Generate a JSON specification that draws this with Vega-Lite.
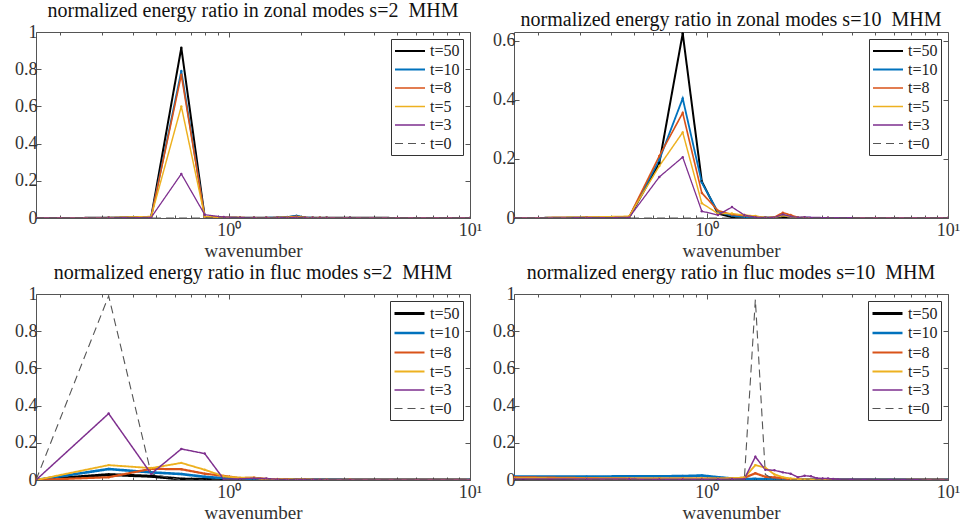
{
"$schema": "https://vega.github.io/schema/vega-lite/v6.json",
"background": "white",
"padding": {"left": 14, "top": 0, "right": 5, "bottom": 5},
"columns": 2,
"spacing": {"row": 76, "column": 44},
"bounds": "flush",
"datasets": {
"zs2": [
{"k":0.1592,"v":0,"s":"t=50"},{"k":0.3183,"v":0.001,"s":"t=50"},{"k":0.4775,"v":0.005,"s":"t=50"},{"k":0.6366,"v":0.915,"s":"t=50"},{"k":0.7958,"v":0.006,"s":"t=50"},{"k":0.9549,"v":0.002,"s":"t=50"},{"k":1.1141,"v":0.001,"s":"t=50"},{"k":1.2732,"v":0.001,"s":"t=50"},{"k":1.4324,"v":0.001,"s":"t=50"},{"k":1.5915,"v":0.002,"s":"t=50"},{"k":1.7507,"v":0.004,"s":"t=50"},{"k":1.9099,"v":0.010,"s":"t=50"},{"k":2.069,"v":0.002,"s":"t=50"},{"k":2.2282,"v":0.001,"s":"t=50"},{"k":2.3873,"v":0.001,"s":"t=50"},{"k":2.5465,"v":0.001,"s":"t=50"},{"k":3.1831,"v":0.001,"s":"t=50"},{"k":10.0268,"v":0,"s":"t=50"},
{"k":0.1592,"v":0,"s":"t=10"},{"k":0.3183,"v":0.001,"s":"t=10"},{"k":0.4775,"v":0.005,"s":"t=10"},{"k":0.6366,"v":0.79,"s":"t=10"},{"k":0.7958,"v":0.006,"s":"t=10"},{"k":0.9549,"v":0.002,"s":"t=10"},{"k":1.1141,"v":0.001,"s":"t=10"},{"k":1.2732,"v":0.001,"s":"t=10"},{"k":1.4324,"v":0.001,"s":"t=10"},{"k":1.5915,"v":0.002,"s":"t=10"},{"k":1.7507,"v":0.005,"s":"t=10"},{"k":1.9099,"v":0.012,"s":"t=10"},{"k":2.069,"v":0.002,"s":"t=10"},{"k":2.2282,"v":0.001,"s":"t=10"},{"k":2.3873,"v":0.001,"s":"t=10"},{"k":2.5465,"v":0.001,"s":"t=10"},{"k":3.1831,"v":0,"s":"t=10"},{"k":10.0268,"v":0,"s":"t=10"},
{"k":0.1592,"v":0,"s":"t=8"},{"k":0.3183,"v":0.001,"s":"t=8"},{"k":0.4775,"v":0.006,"s":"t=8"},{"k":0.6366,"v":0.77,"s":"t=8"},{"k":0.7958,"v":0.007,"s":"t=8"},{"k":0.9549,"v":0.003,"s":"t=8"},{"k":1.1141,"v":0.002,"s":"t=8"},{"k":1.2732,"v":0.001,"s":"t=8"},{"k":1.4324,"v":0.001,"s":"t=8"},{"k":1.5915,"v":0.002,"s":"t=8"},{"k":1.7507,"v":0.004,"s":"t=8"},{"k":1.9099,"v":0.008,"s":"t=8"},{"k":2.069,"v":0.002,"s":"t=8"},{"k":2.2282,"v":0.001,"s":"t=8"},{"k":2.3873,"v":0.001,"s":"t=8"},{"k":2.5465,"v":0.001,"s":"t=8"},{"k":3.1831,"v":0,"s":"t=8"},{"k":10.0268,"v":0,"s":"t=8"},
{"k":0.1592,"v":0,"s":"t=5"},{"k":0.3183,"v":0.002,"s":"t=5"},{"k":0.4775,"v":0.008,"s":"t=5"},{"k":0.6366,"v":0.6,"s":"t=5"},{"k":0.7958,"v":0.008,"s":"t=5"},{"k":0.9549,"v":0.003,"s":"t=5"},{"k":1.1141,"v":0.002,"s":"t=5"},{"k":1.2732,"v":0.001,"s":"t=5"},{"k":1.4324,"v":0.001,"s":"t=5"},{"k":1.5915,"v":0.002,"s":"t=5"},{"k":1.7507,"v":0.003,"s":"t=5"},{"k":1.9099,"v":0.005,"s":"t=5"},{"k":2.069,"v":0.002,"s":"t=5"},{"k":2.2282,"v":0.001,"s":"t=5"},{"k":2.3873,"v":0.001,"s":"t=5"},{"k":2.5465,"v":0,"s":"t=5"},{"k":3.1831,"v":0,"s":"t=5"},{"k":10.0268,"v":0,"s":"t=5"},
{"k":0.1592,"v":0,"s":"t=3"},{"k":0.3183,"v":0.001,"s":"t=3"},{"k":0.4775,"v":0.003,"s":"t=3"},{"k":0.6366,"v":0.237,"s":"t=3"},{"k":0.7958,"v":0.018,"s":"t=3"},{"k":0.9549,"v":0.005,"s":"t=3"},{"k":1.1141,"v":0.002,"s":"t=3"},{"k":1.2732,"v":0.001,"s":"t=3"},{"k":1.4324,"v":0.001,"s":"t=3"},{"k":1.5915,"v":0.001,"s":"t=3"},{"k":1.7507,"v":0.002,"s":"t=3"},{"k":1.9099,"v":0.003,"s":"t=3"},{"k":2.069,"v":0.001,"s":"t=3"},{"k":2.2282,"v":0.001,"s":"t=3"},{"k":2.3873,"v":0,"s":"t=3"},{"k":2.5465,"v":0,"s":"t=3"},{"k":3.1831,"v":0,"s":"t=3"},{"k":10.0268,"v":0,"s":"t=3"},
{"k":0.1592,"v":0,"s":"t=0"},{"k":10.0268,"v":0,"s":"t=0"}
],
"zs10": [
{"k":0.1592,"v":0,"s":"t=50"},{"k":0.3183,"v":0.001,"s":"t=50"},{"k":0.4775,"v":0.002,"s":"t=50"},{"k":0.6366,"v":0.186,"s":"t=50"},{"k":0.7958,"v":0.625,"s":"t=50"},{"k":0.9549,"v":0.124,"s":"t=50"},{"k":1.1141,"v":0.015,"s":"t=50"},{"k":1.2732,"v":0.003,"s":"t=50"},{"k":1.4324,"v":0.002,"s":"t=50"},{"k":1.5915,"v":0.001,"s":"t=50"},{"k":1.7507,"v":0.001,"s":"t=50"},{"k":1.9099,"v":0.001,"s":"t=50"},{"k":2.069,"v":0.003,"s":"t=50"},{"k":2.2282,"v":0.001,"s":"t=50"},{"k":2.3873,"v":0,"s":"t=50"},{"k":2.5465,"v":0,"s":"t=50"},{"k":3.1831,"v":0,"s":"t=50"},{"k":10.0268,"v":0,"s":"t=50"},
{"k":0.1592,"v":0,"s":"t=10"},{"k":0.3183,"v":0.001,"s":"t=10"},{"k":0.4775,"v":0.003,"s":"t=10"},{"k":0.6366,"v":0.197,"s":"t=10"},{"k":0.7958,"v":0.405,"s":"t=10"},{"k":0.9549,"v":0.12,"s":"t=10"},{"k":1.1141,"v":0.02,"s":"t=10"},{"k":1.2732,"v":0.008,"s":"t=10"},{"k":1.4324,"v":0.003,"s":"t=10"},{"k":1.5915,"v":0.002,"s":"t=10"},{"k":1.7507,"v":0.001,"s":"t=10"},{"k":1.9099,"v":0.002,"s":"t=10"},{"k":2.069,"v":0.01,"s":"t=10"},{"k":2.2282,"v":0.004,"s":"t=10"},{"k":2.3873,"v":0.001,"s":"t=10"},{"k":2.5465,"v":0.001,"s":"t=10"},{"k":3.1831,"v":0,"s":"t=10"},{"k":10.0268,"v":0,"s":"t=10"},
{"k":0.1592,"v":0,"s":"t=8"},{"k":0.3183,"v":0.002,"s":"t=8"},{"k":0.4775,"v":0.004,"s":"t=8"},{"k":0.6366,"v":0.21,"s":"t=8"},{"k":0.7958,"v":0.356,"s":"t=8"},{"k":0.9549,"v":0.085,"s":"t=8"},{"k":1.1141,"v":0.025,"s":"t=8"},{"k":1.2732,"v":0.012,"s":"t=8"},{"k":1.4324,"v":0.008,"s":"t=8"},{"k":1.5915,"v":0.005,"s":"t=8"},{"k":1.7507,"v":0.001,"s":"t=8"},{"k":1.9099,"v":0.003,"s":"t=8"},{"k":2.069,"v":0.018,"s":"t=8"},{"k":2.2282,"v":0.01,"s":"t=8"},{"k":2.3873,"v":0.002,"s":"t=8"},{"k":2.5465,"v":0.001,"s":"t=8"},{"k":3.1831,"v":0,"s":"t=8"},{"k":10.0268,"v":0,"s":"t=8"},
{"k":0.1592,"v":0,"s":"t=5"},{"k":0.3183,"v":0.003,"s":"t=5"},{"k":0.4775,"v":0.006,"s":"t=5"},{"k":0.6366,"v":0.176,"s":"t=5"},{"k":0.7958,"v":0.29,"s":"t=5"},{"k":0.9549,"v":0.05,"s":"t=5"},{"k":1.1141,"v":0.015,"s":"t=5"},{"k":1.2732,"v":0.015,"s":"t=5"},{"k":1.4324,"v":0.01,"s":"t=5"},{"k":1.5915,"v":0.007,"s":"t=5"},{"k":1.7507,"v":0.001,"s":"t=5"},{"k":1.9099,"v":0.002,"s":"t=5"},{"k":2.069,"v":0.008,"s":"t=5"},{"k":2.2282,"v":0.004,"s":"t=5"},{"k":2.3873,"v":0.001,"s":"t=5"},{"k":2.5465,"v":0.001,"s":"t=5"},{"k":3.1831,"v":0,"s":"t=5"},{"k":10.0268,"v":0,"s":"t=5"},
{"k":0.1592,"v":0,"s":"t=3"},{"k":0.3183,"v":0.001,"s":"t=3"},{"k":0.4775,"v":0.002,"s":"t=3"},{"k":0.6366,"v":0.139,"s":"t=3"},{"k":0.7958,"v":0.206,"s":"t=3"},{"k":0.9549,"v":0.023,"s":"t=3"},{"k":1.1141,"v":0.01,"s":"t=3"},{"k":1.2732,"v":0.037,"s":"t=3"},{"k":1.4324,"v":0.01,"s":"t=3"},{"k":1.5915,"v":0.003,"s":"t=3"},{"k":1.7507,"v":0.001,"s":"t=3"},{"k":1.9099,"v":0.002,"s":"t=3"},{"k":2.069,"v":0.012,"s":"t=3"},{"k":2.2282,"v":0.005,"s":"t=3"},{"k":2.3873,"v":0.002,"s":"t=3"},{"k":2.5465,"v":0.003,"s":"t=3"},{"k":3.1831,"v":0.001,"s":"t=3"},{"k":10.0268,"v":0,"s":"t=3"},
{"k":0.1592,"v":0,"s":"t=0"},{"k":10.0268,"v":0,"s":"t=0"}
],
"fs2": [
{"k":0.1592,"v":0,"s":"t=50"},{"k":0.3183,"v":0.029,"s":"t=50"},{"k":0.4775,"v":0.02,"s":"t=50"},{"k":0.6366,"v":0.005,"s":"t=50"},{"k":0.7958,"v":0.003,"s":"t=50"},{"k":0.9549,"v":0.002,"s":"t=50"},{"k":1.1141,"v":0.001,"s":"t=50"},{"k":1.2732,"v":0.001,"s":"t=50"},{"k":1.4324,"v":0.001,"s":"t=50"},{"k":1.5915,"v":0,"s":"t=50"},{"k":1.7507,"v":0,"s":"t=50"},{"k":1.9099,"v":0,"s":"t=50"},{"k":2.069,"v":0,"s":"t=50"},{"k":2.2282,"v":0,"s":"t=50"},{"k":2.3873,"v":0,"s":"t=50"},{"k":2.5465,"v":0,"s":"t=50"},{"k":3.1831,"v":0,"s":"t=50"},{"k":10.0268,"v":0,"s":"t=50"},
{"k":0.1592,"v":0,"s":"t=10"},{"k":0.3183,"v":0.059,"s":"t=10"},{"k":0.4775,"v":0.041,"s":"t=10"},{"k":0.6366,"v":0.032,"s":"t=10"},{"k":0.7958,"v":0.017,"s":"t=10"},{"k":0.9549,"v":0.01,"s":"t=10"},{"k":1.1141,"v":0.008,"s":"t=10"},{"k":1.2732,"v":0.005,"s":"t=10"},{"k":1.4324,"v":0.004,"s":"t=10"},{"k":1.5915,"v":0.003,"s":"t=10"},{"k":1.7507,"v":0.002,"s":"t=10"},{"k":1.9099,"v":0.002,"s":"t=10"},{"k":2.069,"v":0.001,"s":"t=10"},{"k":2.2282,"v":0.001,"s":"t=10"},{"k":2.3873,"v":0.001,"s":"t=10"},{"k":2.5465,"v":0.001,"s":"t=10"},{"k":3.1831,"v":0,"s":"t=10"},{"k":10.0268,"v":0,"s":"t=10"},
{"k":0.1592,"v":0,"s":"t=8"},{"k":0.3183,"v":0.015,"s":"t=8"},{"k":0.4775,"v":0.06,"s":"t=8"},{"k":0.6366,"v":0.058,"s":"t=8"},{"k":0.7958,"v":0.034,"s":"t=8"},{"k":0.9549,"v":0.022,"s":"t=8"},{"k":1.1141,"v":0.01,"s":"t=8"},{"k":1.2732,"v":0.012,"s":"t=8"},{"k":1.4324,"v":0.005,"s":"t=8"},{"k":1.5915,"v":0.004,"s":"t=8"},{"k":1.7507,"v":0.003,"s":"t=8"},{"k":1.9099,"v":0.002,"s":"t=8"},{"k":2.069,"v":0.002,"s":"t=8"},{"k":2.2282,"v":0.001,"s":"t=8"},{"k":2.3873,"v":0.001,"s":"t=8"},{"k":2.5465,"v":0.001,"s":"t=8"},{"k":3.1831,"v":0.001,"s":"t=8"},{"k":10.0268,"v":0,"s":"t=8"},
{"k":0.1592,"v":0,"s":"t=5"},{"k":0.3183,"v":0.08,"s":"t=5"},{"k":0.4775,"v":0.064,"s":"t=5"},{"k":0.6366,"v":0.092,"s":"t=5"},{"k":0.7958,"v":0.055,"s":"t=5"},{"k":0.9549,"v":0.02,"s":"t=5"},{"k":1.1141,"v":0.012,"s":"t=5"},{"k":1.2732,"v":0.012,"s":"t=5"},{"k":1.4324,"v":0.006,"s":"t=5"},{"k":1.5915,"v":0.005,"s":"t=5"},{"k":1.7507,"v":0.003,"s":"t=5"},{"k":1.9099,"v":0.002,"s":"t=5"},{"k":2.069,"v":0.002,"s":"t=5"},{"k":2.2282,"v":0.001,"s":"t=5"},{"k":2.3873,"v":0.001,"s":"t=5"},{"k":2.5465,"v":0.001,"s":"t=5"},{"k":3.1831,"v":0.001,"s":"t=5"},{"k":10.0268,"v":0,"s":"t=5"},
{"k":0.1592,"v":0,"s":"t=3"},{"k":0.3183,"v":0.357,"s":"t=3"},{"k":0.4775,"v":0.033,"s":"t=3"},{"k":0.6366,"v":0.167,"s":"t=3"},{"k":0.7958,"v":0.142,"s":"t=3"},{"k":0.9549,"v":0.004,"s":"t=3"},{"k":1.1141,"v":0.006,"s":"t=3"},{"k":1.2732,"v":0.01,"s":"t=3"},{"k":1.4324,"v":0.008,"s":"t=3"},{"k":1.5915,"v":0.004,"s":"t=3"},{"k":1.7507,"v":0.002,"s":"t=3"},{"k":1.9099,"v":0.001,"s":"t=3"},{"k":2.069,"v":0.001,"s":"t=3"},{"k":2.2282,"v":0.001,"s":"t=3"},{"k":2.3873,"v":0.001,"s":"t=3"},{"k":2.5465,"v":0,"s":"t=3"},{"k":3.1831,"v":0,"s":"t=3"},{"k":10.0268,"v":0,"s":"t=3"},
{"k":0.1592,"v":0,"s":"t=0"},{"k":0.3183,"v":0.99,"s":"t=0"},{"k":0.4775,"v":0.033,"s":"t=0"},{"k":0.6366,"v":0,"s":"t=0"},{"k":10.0268,"v":0,"s":"t=0"}
],
"fs10": [
{"k":0.1592,"v":0.004,"s":"t=50"},{"k":0.3183,"v":0.003,"s":"t=50"},{"k":0.4775,"v":0.002,"s":"t=50"},{"k":0.6366,"v":0.002,"s":"t=50"},{"k":0.7958,"v":0.002,"s":"t=50"},{"k":0.9549,"v":0.001,"s":"t=50"},{"k":1.1141,"v":0.001,"s":"t=50"},{"k":1.2732,"v":0.001,"s":"t=50"},{"k":1.4324,"v":0.001,"s":"t=50"},{"k":1.5915,"v":0.001,"s":"t=50"},{"k":1.7507,"v":0.001,"s":"t=50"},{"k":1.9099,"v":0,"s":"t=50"},{"k":2.069,"v":0,"s":"t=50"},{"k":2.2282,"v":0,"s":"t=50"},{"k":2.3873,"v":0,"s":"t=50"},{"k":2.5465,"v":0,"s":"t=50"},{"k":3.1831,"v":0,"s":"t=50"},{"k":10.0268,"v":0,"s":"t=50"},
{"k":0.1592,"v":0.018,"s":"t=10"},{"k":0.3183,"v":0.018,"s":"t=10"},{"k":0.4775,"v":0.02,"s":"t=10"},{"k":0.6366,"v":0.02,"s":"t=10"},{"k":0.7958,"v":0.021,"s":"t=10"},{"k":0.9549,"v":0.024,"s":"t=10"},{"k":1.1141,"v":0.015,"s":"t=10"},{"k":1.2732,"v":0.008,"s":"t=10"},{"k":1.4324,"v":0.005,"s":"t=10"},{"k":1.5915,"v":0.006,"s":"t=10"},{"k":1.7507,"v":0.004,"s":"t=10"},{"k":1.9099,"v":0.003,"s":"t=10"},{"k":2.069,"v":0.002,"s":"t=10"},{"k":2.2282,"v":0.001,"s":"t=10"},{"k":2.3873,"v":0.001,"s":"t=10"},{"k":2.5465,"v":0.001,"s":"t=10"},{"k":3.1831,"v":0.001,"s":"t=10"},{"k":10.0268,"v":0,"s":"t=10"},
{"k":0.1592,"v":0.015,"s":"t=8"},{"k":0.3183,"v":0.01,"s":"t=8"},{"k":0.4775,"v":0.008,"s":"t=8"},{"k":0.6366,"v":0.008,"s":"t=8"},{"k":0.7958,"v":0.008,"s":"t=8"},{"k":0.9549,"v":0.008,"s":"t=8"},{"k":1.1141,"v":0.008,"s":"t=8"},{"k":1.2732,"v":0.008,"s":"t=8"},{"k":1.4324,"v":0.012,"s":"t=8"},{"k":1.5915,"v":0.036,"s":"t=8"},{"k":1.7507,"v":0.017,"s":"t=8"},{"k":1.9099,"v":0.014,"s":"t=8"},{"k":2.069,"v":0.01,"s":"t=8"},{"k":2.2282,"v":0.004,"s":"t=8"},{"k":2.3873,"v":0.002,"s":"t=8"},{"k":2.5465,"v":0.001,"s":"t=8"},{"k":3.1831,"v":0.001,"s":"t=8"},{"k":10.0268,"v":0,"s":"t=8"},
{"k":0.1592,"v":0.01,"s":"t=5"},{"k":0.3183,"v":0.008,"s":"t=5"},{"k":0.4775,"v":0.008,"s":"t=5"},{"k":0.6366,"v":0.008,"s":"t=5"},{"k":0.7958,"v":0.008,"s":"t=5"},{"k":0.9549,"v":0.008,"s":"t=5"},{"k":1.1141,"v":0.008,"s":"t=5"},{"k":1.2732,"v":0.01,"s":"t=5"},{"k":1.4324,"v":0.013,"s":"t=5"},{"k":1.5915,"v":0.08,"s":"t=5"},{"k":1.7507,"v":0.066,"s":"t=5"},{"k":1.9099,"v":0.03,"s":"t=5"},{"k":2.069,"v":0.015,"s":"t=5"},{"k":2.2282,"v":0.008,"s":"t=5"},{"k":2.3873,"v":0.005,"s":"t=5"},{"k":2.5465,"v":0.003,"s":"t=5"},{"k":3.1831,"v":0.001,"s":"t=5"},{"k":10.0268,"v":0,"s":"t=5"},
{"k":0.1592,"v":0.006,"s":"t=3"},{"k":0.3183,"v":0.005,"s":"t=3"},{"k":0.4775,"v":0.005,"s":"t=3"},{"k":0.6366,"v":0.004,"s":"t=3"},{"k":0.7958,"v":0.004,"s":"t=3"},{"k":0.9549,"v":0.004,"s":"t=3"},{"k":1.1141,"v":0.004,"s":"t=3"},{"k":1.2732,"v":0.005,"s":"t=3"},{"k":1.4324,"v":0.005,"s":"t=3"},{"k":1.5915,"v":0.125,"s":"t=3"},{"k":1.7507,"v":0.055,"s":"t=3"},{"k":1.9099,"v":0.052,"s":"t=3"},{"k":2.069,"v":0.041,"s":"t=3"},{"k":2.2282,"v":0.034,"s":"t=3"},{"k":2.3873,"v":0.015,"s":"t=3"},{"k":2.5465,"v":0.023,"s":"t=3"},{"k":2.7056,"v":0.02,"s":"t=3"},{"k":2.8648,"v":0.01,"s":"t=3"},{"k":3.0239,"v":0.008,"s":"t=3"},{"k":3.1831,"v":0.008,"s":"t=3"},{"k":3.3423,"v":0.006,"s":"t=3"},{"k":3.5014,"v":0.003,"s":"t=3"},{"k":10.0268,"v":0,"s":"t=3"},
{"k":0.1592,"v":0,"s":"t=0"},{"k":1.4324,"v":0,"s":"t=0"},{"k":1.5915,"v":0.97,"s":"t=0"},{"k":1.7507,"v":0.03,"s":"t=0"},{"k":1.9099,"v":0,"s":"t=0"},{"k":10.0268,"v":0,"s":"t=0"}
]
},
"resolve": {"scale": {"color": "independent", "strokeDash": "independent", "strokeWidth": "independent"}},
"concat": [
{
"title": {"text": "normalized energy ratio in zonal modes s=2\u00a0 MHM"},
"width": 434, "height": 186,
"data": {"name": "zs2"},
"layer": [
{"mark": {"type": "line", "clip": true},
"encoding": {
"x": {"field": "k", "type": "quantitative", "scale": {"type": "log", "domain": [0.15915, 10], "nice": false}, "axis": {"orient": "bottom", "title": "wavenumber", "values": [0.2,0.3,0.4,0.5,0.6,0.7,0.8,0.9,1,2,3,4,5,6,7,8,9,10], "labelExpr": "datum.value == 1 ? '10⁰' : (datum.value == 10 ? '10¹' : '')", "labelFlush": false, "labelOverlap": false, "labelPadding": 8, "tickSize": {"condition": {"test": "datum.value == 1 || datum.value == 10", "value": -5}, "value": -3}}},
"y": {"field": "v", "type": "quantitative", "scale": {"domain": [0, 1], "nice": false}, "axis": {"orient": "left", "title": null, "values": [0,0.2,0.4,0.6,0.8,1], "format": "~g", "tickSize": -5}},
"color": {"field": "s", "type": "nominal", "scale": {"domain": ["t=50","t=10","t=8","t=5","t=3","t=0"], "range": ["#000000","#0072BD","#D95319","#EDB120","#7E2F8E","#555555"]}, "legend": {"title": null, "labelFont": "Liberation Serif"}},
"strokeDash": {"field": "s", "type": "nominal", "scale": {"domain": ["t=50","t=10","t=8","t=5","t=3","t=0"], "range": [[1,0],[1,0],[1,0],[1,0],[1,0],[8,5]]}, "legend": {"title": null, "labelFont": "Liberation Serif"}},
"strokeWidth": {"field": "s", "type": "nominal", "scale": {"domain": ["t=50","t=10","t=8","t=5","t=3","t=0"], "range": [2,1.1,1.1,1.1,1.1,1.5]}, "legend": {"title": null, "labelFont": "Liberation Serif"}}
}},
{"transform": [{"filter": "datum.s != 't=0'"}],
"mark": {"type": "point", "filled": true, "size": 6, "opacity": 1, "clip": true},
"encoding": {
"x": {"field": "k", "type": "quantitative", "axis": {"orient": "top", "labels": false, "title": null, "values": [0.2,0.3,0.4,0.5,0.6,0.7,0.8,0.9,1,2,3,4,5,6,7,8,9,10], "tickSize": {"condition": {"test": "datum.value == 1 || datum.value == 10", "value": -5}, "value": -3}}},
"y": {"field": "v", "type": "quantitative", "axis": {"orient": "right", "labels": false, "title": null, "values": [0,0.2,0.4,0.6,0.8,1], "tickSize": -5}},
"color": {"field": "s", "type": "nominal", "legend": null}
}}
]
},
{
"title": {"text": "normalized energy ratio in zonal modes s=10\u00a0 MHM"},
"width": 434, "height": 186,
"data": {"name": "zs10"},
"layer": [
{"mark": {"type": "line", "clip": true},
"encoding": {
"x": {"field": "k", "type": "quantitative", "scale": {"type": "log", "domain": [0.15915, 10], "nice": false}, "axis": {"orient": "bottom", "title": "wavenumber", "values": [0.2,0.3,0.4,0.5,0.6,0.7,0.8,0.9,1,2,3,4,5,6,7,8,9,10], "labelExpr": "datum.value == 1 ? '10⁰' : (datum.value == 10 ? '10¹' : '')", "labelFlush": false, "labelOverlap": false, "labelPadding": 8, "tickSize": {"condition": {"test": "datum.value == 1 || datum.value == 10", "value": -5}, "value": -3}}},
"y": {"field": "v", "type": "quantitative", "scale": {"domain": [0, 0.63], "nice": false}, "axis": {"orient": "left", "title": null, "values": [0,0.2,0.4,0.6], "format": "~g", "tickSize": -5}},
"color": {"field": "s", "type": "nominal", "scale": {"domain": ["t=50","t=10","t=8","t=5","t=3","t=0"], "range": ["#000000","#0072BD","#D95319","#EDB120","#7E2F8E","#555555"]}, "legend": {"title": null, "labelFont": "Liberation Serif"}},
"strokeDash": {"field": "s", "type": "nominal", "scale": {"domain": ["t=50","t=10","t=8","t=5","t=3","t=0"], "range": [[1,0],[1,0],[1,0],[1,0],[1,0],[8,5]]}, "legend": {"title": null, "labelFont": "Liberation Serif"}},
"strokeWidth": {"field": "s", "type": "nominal", "scale": {"domain": ["t=50","t=10","t=8","t=5","t=3","t=0"], "range": [2,1.1,1.1,1.1,1.1,1.5]}, "legend": {"title": null, "labelFont": "Liberation Serif"}}
}},
{"transform": [{"filter": "datum.s != 't=0'"}],
"mark": {"type": "point", "filled": true, "size": 6, "opacity": 1, "clip": true},
"encoding": {
"x": {"field": "k", "type": "quantitative", "axis": {"orient": "top", "labels": false, "title": null, "values": [0.2,0.3,0.4,0.5,0.6,0.7,0.8,0.9,1,2,3,4,5,6,7,8,9,10], "tickSize": {"condition": {"test": "datum.value == 1 || datum.value == 10", "value": -5}, "value": -3}}},
"y": {"field": "v", "type": "quantitative", "axis": {"orient": "right", "labels": false, "title": null, "values": [0,0.2,0.4,0.6], "tickSize": -5}},
"color": {"field": "s", "type": "nominal", "legend": null}
}}
]
},
{
"title": {"text": "normalized energy ratio in fluc modes s=2\u00a0 MHM"},
"width": 434, "height": 186,
"data": {"name": "fs2"},
"layer": [
{"mark": {"type": "line", "clip": true},
"encoding": {
"x": {"field": "k", "type": "quantitative", "scale": {"type": "log", "domain": [0.15915, 10], "nice": false}, "axis": {"orient": "bottom", "title": "wavenumber", "values": [0.2,0.3,0.4,0.5,0.6,0.7,0.8,0.9,1,2,3,4,5,6,7,8,9,10], "labelExpr": "datum.value == 1 ? '10⁰' : (datum.value == 10 ? '10¹' : '')", "labelFlush": false, "labelOverlap": false, "labelPadding": 8, "tickSize": {"condition": {"test": "datum.value == 1 || datum.value == 10", "value": -5}, "value": -3}}},
"y": {"field": "v", "type": "quantitative", "scale": {"domain": [0, 1], "nice": false}, "axis": {"orient": "left", "title": null, "values": [0,0.2,0.4,0.6,0.8,1], "format": "~g", "tickSize": -5}},
"color": {"field": "s", "type": "nominal", "scale": {"domain": ["t=50","t=10","t=8","t=5","t=3","t=0"], "range": ["#000000","#0072BD","#D95319","#EDB120","#7E2F8E","#555555"]}, "legend": {"title": null, "labelFont": "Liberation Serif"}},
"strokeDash": {"field": "s", "type": "nominal", "scale": {"domain": ["t=50","t=10","t=8","t=5","t=3","t=0"], "range": [[1,0],[1,0],[1,0],[1,0],[1,0],[8,5]]}, "legend": {"title": null, "labelFont": "Liberation Serif"}},
"strokeWidth": {"field": "s", "type": "nominal", "scale": {"domain": ["t=50","t=10","t=8","t=5","t=3","t=0"], "range": [3,1.1,1.1,1.1,1.1,1.5]}, "legend": {"title": null, "labelFont": "Liberation Serif"}}
}},
{"transform": [{"filter": "datum.s != 't=0'"}],
"mark": {"type": "point", "filled": true, "size": 6, "opacity": 1, "clip": true},
"encoding": {
"x": {"field": "k", "type": "quantitative", "axis": {"orient": "top", "labels": false, "title": null, "values": [0.2,0.3,0.4,0.5,0.6,0.7,0.8,0.9,1,2,3,4,5,6,7,8,9,10], "tickSize": {"condition": {"test": "datum.value == 1 || datum.value == 10", "value": -5}, "value": -3}}},
"y": {"field": "v", "type": "quantitative", "axis": {"orient": "right", "labels": false, "title": null, "values": [0,0.2,0.4,0.6,0.8,1], "tickSize": -5}},
"color": {"field": "s", "type": "nominal", "legend": null}
}}
]
},
{
"title": {"text": "normalized energy ratio in fluc modes s=10\u00a0 MHM"},
"width": 434, "height": 186,
"data": {"name": "fs10"},
"layer": [
{"mark": {"type": "line", "clip": true},
"encoding": {
"x": {"field": "k", "type": "quantitative", "scale": {"type": "log", "domain": [0.15915, 10], "nice": false}, "axis": {"orient": "bottom", "title": "wavenumber", "values": [0.2,0.3,0.4,0.5,0.6,0.7,0.8,0.9,1,2,3,4,5,6,7,8,9,10], "labelExpr": "datum.value == 1 ? '10⁰' : (datum.value == 10 ? '10¹' : '')", "labelFlush": false, "labelOverlap": false, "labelPadding": 8, "tickSize": {"condition": {"test": "datum.value == 1 || datum.value == 10", "value": -5}, "value": -3}}},
"y": {"field": "v", "type": "quantitative", "scale": {"domain": [0, 1], "nice": false}, "axis": {"orient": "left", "title": null, "values": [0,0.2,0.4,0.6,0.8,1], "format": "~g", "tickSize": -5}},
"color": {"field": "s", "type": "nominal", "scale": {"domain": ["t=50","t=10","t=8","t=5","t=3","t=0"], "range": ["#000000","#0072BD","#D95319","#EDB120","#7E2F8E","#555555"]}, "legend": {"title": null, "labelFont": "Liberation Serif"}},
"strokeDash": {"field": "s", "type": "nominal", "scale": {"domain": ["t=50","t=10","t=8","t=5","t=3","t=0"], "range": [[1,0],[1,0],[1,0],[1,0],[1,0],[8,5]]}, "legend": {"title": null, "labelFont": "Liberation Serif"}},
"strokeWidth": {"field": "s", "type": "nominal", "scale": {"domain": ["t=50","t=10","t=8","t=5","t=3","t=0"], "range": [3,1.1,1.1,1.1,1.1,1.5]}, "legend": {"title": null, "labelFont": "Liberation Serif"}}
}},
{"transform": [{"filter": "datum.s != 't=0'"}],
"mark": {"type": "point", "filled": true, "size": 6, "opacity": 1, "clip": true},
"encoding": {
"x": {"field": "k", "type": "quantitative", "axis": {"orient": "top", "labels": false, "title": null, "values": [0.2,0.3,0.4,0.5,0.6,0.7,0.8,0.9,1,2,3,4,5,6,7,8,9,10], "tickSize": {"condition": {"test": "datum.value == 1 || datum.value == 10", "value": -5}, "value": -3}}},
"y": {"field": "v", "type": "quantitative", "axis": {"orient": "right", "labels": false, "title": null, "values": [0,0.2,0.4,0.6,0.8,1], "tickSize": -5}},
"color": {"field": "s", "type": "nominal", "legend": null}
}}
]
}
],
"config": {
"font": "Liberation Serif",
"view": {"stroke": "#555555", "strokeWidth": 1},
"axis": {"domain": false, "grid": false, "labelFont": "Liberation Serif", "labelFontSize": 18, "labelColor": "#333333", "labelPadding": 4, "tickColor": "#555555", "titleFont": "Liberation Serif", "titleFontSize": 19, "titleFontWeight": "normal", "titleColor": "#333333", "titlePadding": 0},
"legend": {"orient": "top-right", "offset": 7, "strokeColor": "#333333", "fillColor": "white", "padding": 3, "labelFont": "Liberation Serif", "labelFontSize": 16, "labelColor": "#222222", "symbolType": "M-1,0H2.75", "symbolSize": 256, "labelOffset": 18, "rowPadding": 1.5},
"title": {"font": "Liberation Serif", "fontSize": 20, "fontWeight": "normal", "color": "#111111", "offset": 2, "anchor": "middle"}
}
}
